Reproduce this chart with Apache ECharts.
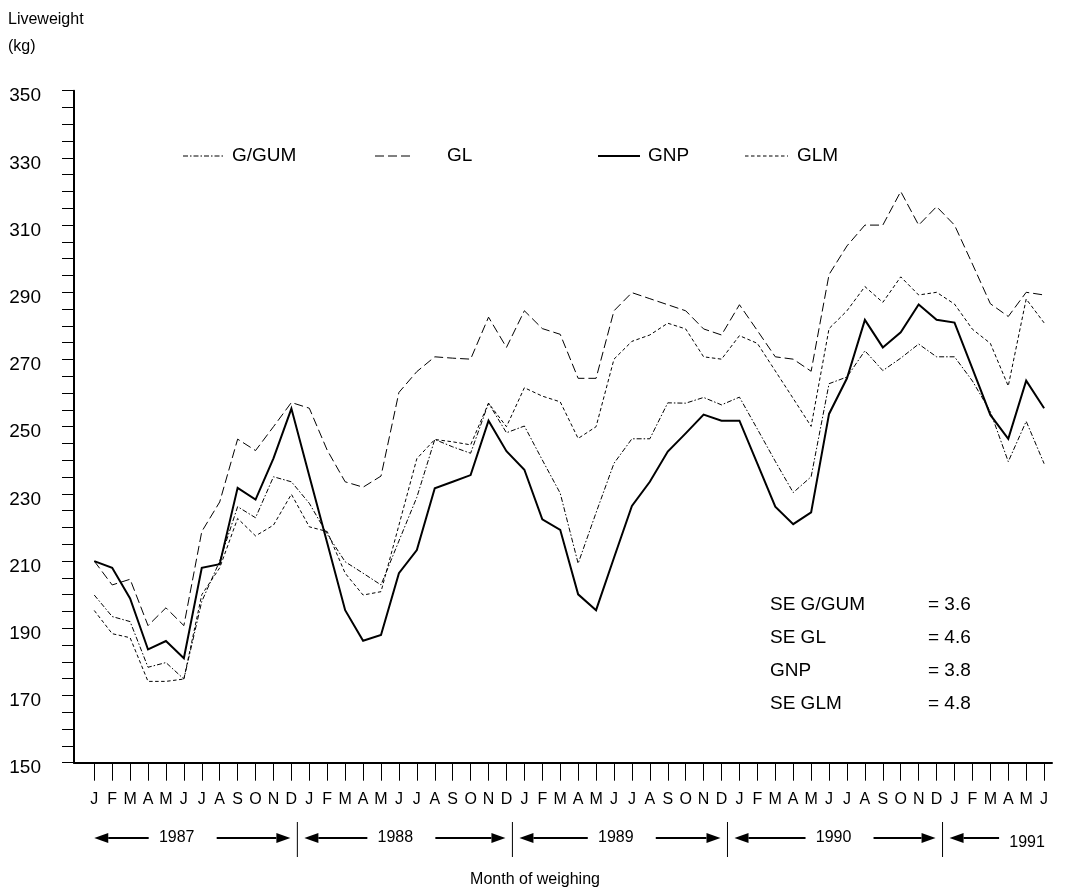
<!DOCTYPE html>
<html>
<head>
<meta charset="utf-8">
<script src="https://cdn.jsdelivr.net/npm/echarts@6/dist/echarts.min.js"></script>
<style>
  html, body { margin: 0; padding: 0; background: #fff; }
  #chart { width: 1071px; height: 893px; }
</style>
</head>
<body>
<div id="chart"></div>
<script>
// Monthly liveweight (kg), January 1987 to June 1991
const monthInitials = ['J','F','M','A','M','J','J','A','S','O','N','D'];
const monthCount = 54;

const gGum = [199.9,193.5,192.0,178.4,179.8,174.9,198.0,210.0,226.2,222.9,235.1,233.6,
              227.2,218.0,209.8,206.4,202.9,216.0,229.0,246.2,244.0,242.1,257.0,248.2,
              250.2,240.1,230.2,209.3,224.4,239.1,246.4,246.4,257.1,257.0,258.7,256.5,
              258.8,249.3,239.7,230.4,235.1,262.8,264.8,272.6,266.7,270.4,274.6,270.8,
              270.8,263.6,254.5,239.6,251.6,239.0];
const gl   = [210.0,202.9,204.6,190.8,196.1,190.8,218.8,227.6,246.3,242.9,250.0,257.2,
              255.5,243.0,233.6,232.0,235.3,260.2,266.4,270.8,270.4,270.1,282.6,273.6,
              284.5,279.2,277.5,264.4,264.4,284.5,289.9,288.1,286.3,284.5,279.1,277.3,
              286.3,278.6,270.8,270.1,266.5,295.3,303.8,310.0,310.0,320.0,310.0,315.5,
              310.0,298.4,286.6,282.8,290.0,289.2];
const gnp  = [210.0,208.0,198.9,183.7,186.2,181.1,208.0,209.1,231.8,228.3,240.6,255.4,
              235.3,215.4,195.4,186.3,188.0,206.4,213.3,231.7,233.6,235.6,251.8,242.7,
              237.2,222.4,219.3,200.1,195.4,211.0,226.4,233.6,242.6,248.0,253.6,251.8,
              251.8,239.0,226.2,221.0,224.5,253.8,264.4,281.8,273.6,278.1,286.4,281.8,
              281.0,267.3,253.5,246.4,263.7,255.5];
const glm  = [195.3,188.4,187.2,174.2,174.2,174.9,200.0,208.0,222.7,217.5,220.7,229.9,
              220.2,218.8,206.4,199.9,200.9,220.7,240.5,246.2,245.5,244.6,257.0,250.0,
              261.6,259.1,257.4,246.5,250.0,270.1,275.4,277.3,280.8,279.1,270.8,270.1,
              277.1,274.8,266.6,258.4,250.1,279.2,284.5,291.7,287.0,294.6,289.2,290.0,
              286.5,279.0,274.8,262.1,288.0,280.9];

const seriesNames = ['G/GUM', 'GL', 'GNP', 'GLM'];
const seLabels = ['SE G/GUM', 'SE GL', 'GNP', 'SE GLM'];
const seValues = ['= 3.6', '= 4.6', '= 3.8', '= 4.8'];

// year bands along the month axis (first month index, label centre in months)
const years = ['1987', '1988', '1989', '1990', '1991'];
const yearStart = [0, 12, 24, 36, 48];
const yearCentre = [4.6, 16.8, 29.1, 41.25, 52.05];

const monthLabels = [];
const monthIdx = [];
for (let i = 0; i < monthCount; i++) {
  monthLabels.push(monthInitials[i % 12]);
  monthIdx.push(i);
}
const toPairs = arr => arr.map((v, i) => [i, v]);

const FONT = 'Liberation Sans, Arial, Helvetica, sans-serif';
const INK = '#000';

// line styles shared by the series and the key
const styles = {
  'G/GUM': { width: 1, dash: [5, 2, 1.5, 2] },
  'GL':    { width: 1, dash: [9, 4] },
  'GNP':   { width: 2, dash: null },
  'GLM':   { width: 1, dash: [3.5, 2.5] }
};

const chart = echarts.init(document.getElementById('chart'), null, { renderer: 'canvas' });

function lineSeries(name, data) {
  const s = styles[name];
  return {
    name: name,
    type: 'line',
    data: toPairs(data),
    symbol: 'none',
    showSymbol: false,
    silent: true,
    animation: false,
    lineStyle: { color: INK, width: s.width, type: s.dash || 'solid', cap: 'butt', join: 'miter' }
  };
}

chart.setOption({
  backgroundColor: '#fff',
  animation: false,
  textStyle: { fontFamily: FONT },
  grid: { left: 74, right: 19, top: 90.7, bottom: 130.3 },
  xAxis: {
    type: 'value',
    min: -1.13,
    max: 53.44,
    axisLine: { show: true, onZero: false, lineStyle: { color: INK, width: 2 } },
    axisTick: { show: true, length: 18, customValues: monthIdx, lineStyle: { color: INK, width: 1 } },
    axisLabel: {
      show: true, margin: 29, customValues: monthIdx,
      formatter: v => monthLabels[Math.round(v)],
      fontFamily: FONT, fontSize: 16, color: INK
    },
    splitLine: { show: false }
  },
  yAxis: {
    type: 'value',
    min: 150,
    max: 350,
    interval: 20,
    axisLine: { show: true, onZero: false, lineStyle: { color: INK, width: 2 } },
    axisTick: { show: true, length: 12, lineStyle: { color: INK, width: 1 } },
    minorTick: { show: true, splitNumber: 4, length: 12, lineStyle: { color: INK, width: 1 } },
    axisLabel: {
      margin: 33, fontFamily: FONT, fontSize: 19, color: INK,
      verticalAlign: 'top', lineHeight: 11
    },
    splitLine: { show: false },
    minorSplitLine: { show: false }
  },
  series: [
    lineSeries('G/GUM', gGum),
    lineSeries('GL', gl),
    lineSeries('GNP', gnp),
    lineSeries('GLM', glm)
  ]
});

// annotations: axis titles, key, SE table and the year bands under the month axis
const px = m => chart.convertToPixel({ xAxisIndex: 0 }, m);
const g = [];
const text = (t, x, y, align, size) => g.push({
  type: 'text', silent: true,
  style: { text: t, x: x, y: y, fill: INK, fontFamily: FONT, fontSize: size || 16,
           align: align || 'left', verticalAlign: 'middle' }
});
const seg = (x1, y1, x2, y2, w, dash) => g.push({
  type: 'line', silent: true,
  shape: { x1: x1, y1: y1, x2: x2, y2: y2 },
  style: { stroke: INK, lineWidth: w, lineDash: dash || null }
});
const arrow = (tail, head, y) => {
  const dir = head > tail ? 1 : -1;
  const base = head - dir * 14;
  seg(tail, y, base, y, 2);
  g.push({
    type: 'polygon', silent: true,
    shape: { points: [[head, y], [base, y - 5], [base, y + 5]] },
    style: { fill: INK }
  });
};

text('Liveweight', 8, 20);
text('(kg)', 8, 47);
text('Month of weighing', 535, 880, 'center');

// key: sample start, sample end, label start
const keyPos = [[183, 225, 232], [375, 412, 447], [598, 640, 648], [745, 788, 797]];
seriesNames.forEach((name, k) => {
  const [a, b, t] = keyPos[k];
  const s = styles[name];
  seg(a, 156, b, 156, s.width, s.dash);
  text(name, t, 156, 'left', 19);
});

seLabels.forEach((lab, k) => {
  const y = 605 + k * 33;
  text(lab, 770, y, 'left', 19);
  text(seValues[k], 928, y, 'left', 19);
});

const yArrow = 838;
years.forEach((yr, k) => {
  const c = px(yearCentre[k]);
  const leftBound = k === 0 ? px(0) - 7 : px(yearStart[k] - 0.5) - 3;
  const isLast = k === years.length - 1;
  if (k > 0) seg(leftBound, 822, leftBound, 857, 1);
  arrow(c - 28, leftBound + 7, yArrow);
  if (!isLast) {
    const rightBound = px(yearStart[k + 1] - 0.5) - 3;
    arrow(c + 40, rightBound - 7, yArrow);
    text(yr, c, yArrow, 'center');
  } else {
    text(yr, c, yArrow + 5, 'center');
  }
});

chart.setOption({ graphic: g });
</script>
</body>
</html>
